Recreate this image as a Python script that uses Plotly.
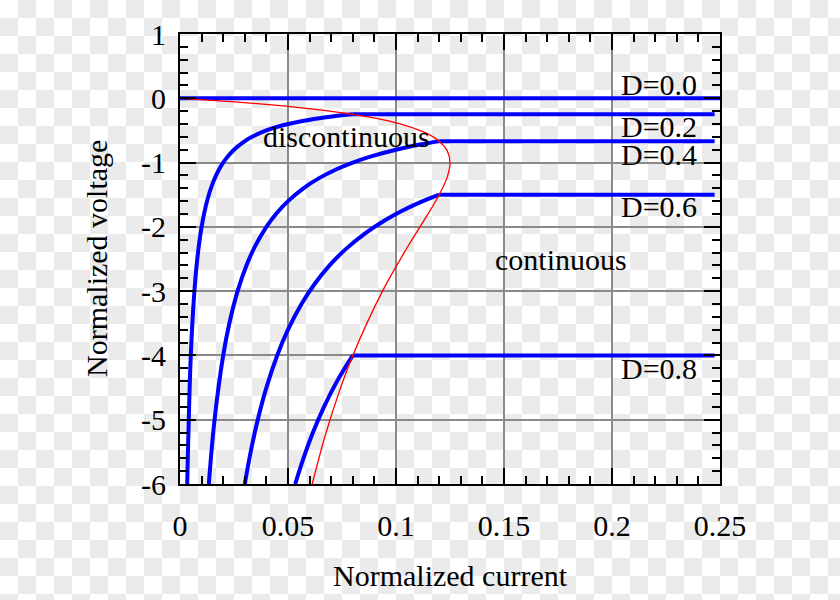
import plotly.graph_objects as go

# ---------------- data ----------------
# DCM branches (normalized current, normalized voltage)
d02_x = [0.003333, 0.005, 0.006667, 0.008, 0.01, 0.0125, 0.015385, 0.018182, 0.021053,
         0.025, 0.028571, 0.033333, 0.04, 0.047619, 0.055556, 0.064516, 0.071429, 0.08]
d02_y = [-6, -4, -3, -2.5, -2, -1.6, -1.3, -1.1, -0.95, -0.8, -0.7, -0.6, -0.5, -0.42,
         -0.36, -0.31, -0.28, -0.25]

d04_x = [0.013333, 0.016, 0.02, 0.022857, 0.026667, 0.030769, 0.034783, 0.04, 0.044444,
         0.05, 0.057143, 0.064, 0.072727, 0.08, 0.088889, 0.1, 0.111111, 0.12]
d04_y = [-6, -5, -4, -3.5, -3, -2.6, -2.3, -2, -1.8, -1.6, -1.4, -1.25, -1.1, -1, -0.9,
         -0.8, -0.72, -0.6667]

d06_x = [0.03, 0.032727, 0.036, 0.04, 0.045, 0.05, 0.05625, 0.062069, 0.069231, 0.076596,
         0.085714, 0.094737, 0.102857, 0.111111, 0.12]
d06_y = [-6, -5.5, -5, -4.5, -4, -3.6, -3.2, -2.9, -2.6, -2.35, -2.1, -1.9, -1.75, -1.62, -1.5]

d08_x = [0.053333, 0.057143, 0.061538, 0.066667, 0.072727, 0.08]
d08_y = [-6, -5.6, -5.2, -4.8, -4.4, -4]

# CCM flat lines
duty_labels = ["D=0.0", "D=0.2", "D=0.4", "D=0.6", "D=0.8"]
ccm_level = [0, -0.25, -0.6667, -1.5, -4]
ccm_start = [0, 0.08, 0.12, 0.12, 0.08]
ccm_end = [0.25, 0.2475, 0.2475, 0.2475, 0.2475]
label_y = [0.21, -0.44, -0.88, -1.69, -4.2]

# CCM / DCM boundary
bound_x = [0, 0.02375, 0.045, 0.06375, 0.08, 0.09375, 0.105, 0.11375, 0.12, 0.12375, 0.125,
           0.12375, 0.12, 0.11375, 0.105, 0.09375, 0.08, 0.0738, 0.0672, 0.061224]
bound_y = [0, -0.05263, -0.1111, -0.17647, -0.25, -0.3333, -0.42857, -0.53846, -0.66667,
           -0.81818, -1, -1.22222, -1.5, -1.85714, -2.33333, -3, -4, -4.5556, -5.25, -6]

x_ticks = [0, 0.05, 0.1, 0.15, 0.2, 0.25]
x_ticktext = ["0", "0.05", "0.1", "0.15", "0.2", "0.25"]
y_ticks = [1, 0, -1, -2, -3, -4, -5, -6]
y_ticktext = ["1", "0", "-1", "-2", "-3", "-4", "-5", "-6"]

# ---------------- figure ----------------
W, H = 840, 600
FONT = "Liberation Serif"
FS = 30
BLUE = "#0000ff"

fig = go.Figure()

# checkerboard backdrop (transparent-image look)
cell = 18
ncol, nrow = W // cell + 1, H // cell + 1
zc = [[(r + c) % 2 for c in range(ncol)] for r in range(nrow)]
fig.add_trace(go.Heatmap(
    z=zc, x=[cell * c + cell / 2 for c in range(ncol)], y=[cell * r + cell / 2 for r in range(nrow)],
    colorscale=[[0, "#ffffff"], [1, "#ebebeb"]], showscale=False, hoverinfo="skip",
    xaxis="x", yaxis="y"))

def blue(x, y, shape="spline"):
    fig.add_trace(go.Scatter(x=x, y=y, mode="lines", xaxis="x2", yaxis="y2",
                             line=dict(color=BLUE, width=4, shape=shape, smoothing=1.0),
                             showlegend=False, hoverinfo="skip"))

for xs, ys in [(d02_x, d02_y), (d04_x, d04_y), (d06_x, d06_y), (d08_x, d08_y)]:
    blue(xs, ys)
for lv, s, e in zip(ccm_level, ccm_start, ccm_end):
    blue([s, e], [lv, lv], shape="linear")

fig.add_trace(go.Scatter(x=bound_x, y=bound_y, mode="lines", xaxis="x2", yaxis="y2",
                         line=dict(color="#ff0000", width=1.3, shape="spline", smoothing=1.0),
                         showlegend=False, hoverinfo="skip"))

annos = []
for lab, ly in zip(duty_labels, label_y):
    annos.append(dict(x=0.2032, y=ly, xref="x2", yref="y2", text=lab, showarrow=False,
                      xanchor="left", yanchor="middle", font=dict(family=FONT, size=FS, color="black")))
annos.append(dict(x=0.0769, y=-0.60, xref="x2", yref="y2", text="discontinuous", showarrow=False,
                  xanchor="center", yanchor="middle", font=dict(family=FONT, size=FS, color="black")))
annos.append(dict(x=0.1762, y=-2.50, xref="x2", yref="y2", text="continuous", showarrow=False,
                  xanchor="center", yanchor="middle", font=dict(family=FONT, size=FS, color="black")))
annos.append(dict(x=450 / W, y=1 - 575 / H, xref="paper", yref="paper", text="Normalized current",
                  showarrow=False, xanchor="center", yanchor="middle",
                  font=dict(family=FONT, size=FS, color="black")))
annos.append(dict(x=96 / W, y=1 - 259 / H, xref="paper", yref="paper", text="Normalized voltage",
                  showarrow=False, xanchor="center", yanchor="middle", textangle=-90,
                  font=dict(family=FONT, size=FS, color="black")))

axis_common = dict(showline=True, linecolor="black", linewidth=2, mirror="allticks",
                   ticks="inside", ticklen=16, tickwidth=2, tickcolor="black",
                   showgrid=True, gridcolor="#8a8a8a", gridwidth=1.5, zeroline=False,
                   tickfont=dict(family=FONT, size=FS, color="black"), fixedrange=True,
                   automargin=False)

fig.update_layout(
    width=W, height=H, autosize=False,
    margin=dict(l=0, r=0, t=0, b=0, pad=0, autoexpand=False),
    paper_bgcolor="white", plot_bgcolor="rgba(0,0,0,0)",
    xaxis=dict(domain=[0, 1], range=[0, W], visible=False, fixedrange=True, automargin=False),
    yaxis=dict(domain=[0, 1], range=[H, 0], visible=False, fixedrange=True, automargin=False),
    xaxis2=dict(domain=[180 / W, 720 / W], range=[0, 0.25], anchor="y2",
                tickvals=x_ticks, ticktext=x_ticktext, ticklabelstandoff=14,
                minor=dict(dtick=0.01, ticks="inside", ticklen=8, tickwidth=2,
                           tickcolor="black", showgrid=False),
                **axis_common),
    yaxis2=dict(domain=[1 - 484 / H, 1 - 34 / H], range=[-6, 1], anchor="x2",
                tickvals=y_ticks, ticktext=y_ticktext, ticklabelstandoff=6,
                minor=dict(dtick=0.2, ticks="inside", ticklen=8, tickwidth=2,
                           tickcolor="black", showgrid=False),
                **axis_common),
    annotations=annos,
    showlegend=False,
)

fig.write_html("out.html", config={"responsive": False, "displayModeBar": False})
